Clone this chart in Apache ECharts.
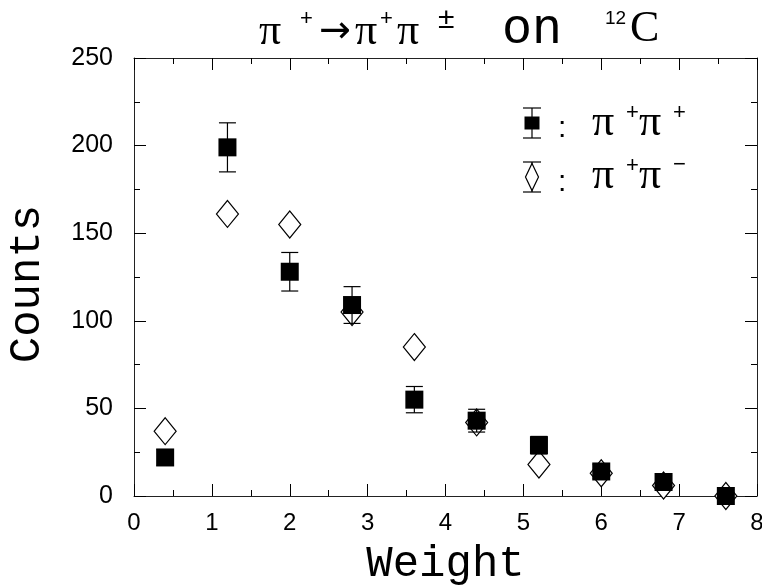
<!DOCTYPE html>
<html>
<head>
<meta charset="utf-8">
<script src="https://cdn.jsdelivr.net/npm/echarts@6/dist/echarts.min.js"></script>
<style>
  html, body { margin: 0; padding: 0; background: #fff; }
  #chart { width: 762px; height: 588px; }
</style>
</head>
<body>
<div id="chart"></div>
<script>
// bin centres (weight)
var weights = [0.4, 1.2, 2.0, 2.8, 3.6, 4.4, 5.2, 6.0, 6.8, 7.6];
// pi+ pi+ counts and their errors
var plusPlus = [22, 199, 128, 109, 55, 43, 29, 14, 8, 0];
var plusPlusErr = [4.5, 14, 11, 10.5, 7.5, 6.5, 5, 4, 3.5, 1];
// pi+ pi- counts
var plusMinus = [37, 161, 155, 105, 85, 42, 18, 13, 6, 0];

var piFont = 'Liberation Serif';
var monoFont = 'Liberation Mono';
var sansFont = 'Liberation Sans';

// plain text piece, vertically centred on y
function txt(str, x, y, family, size) {
    return {
        type: 'text', x: x, y: y, silent: true,
        style: { text: str, fontFamily: family, fontSize: size, fill: '#000', align: 'left', verticalAlign: 'middle' }
    };
}

function axisCommon() {
    return {
        type: 'value',
        axisLine: { show: true, onZero: false, lineStyle: { color: '#222', width: 1 } },
        axisTick: { show: true, inside: true, length: 12, lineStyle: { color: '#000', width: 1 } },
        minorTick: { show: true, splitNumber: 2, length: 6, lineStyle: { color: '#000', width: 1 } },
        splitLine: { show: false },
        minorSplitLine: { show: false }
    };
}

var xBottom = Object.assign(axisCommon(), {
    position: 'bottom', min: 0, max: 8, interval: 1,
    axisLabel: { fontFamily: sansFont, fontSize: 24, color: '#000', margin: 15 },
    name: 'Weight', nameLocation: 'middle', nameGap: 46,
    nameTextStyle: { fontFamily: monoFont, fontSize: 44, color: '#000' }
});
var xTop = Object.assign(axisCommon(), {
    position: 'top', min: 0, max: 8, interval: 1,
    axisLabel: { show: false }
});
var yLeft = Object.assign(axisCommon(), {
    position: 'left', min: 0, max: 250, interval: 50,
    axisLabel: { fontFamily: sansFont, fontSize: 25, color: '#000', margin: 21 },
    name: 'Counts', nameLocation: 'middle', nameGap: 85, nameRotate: 90,
    nameTextStyle: { fontFamily: monoFont, fontSize: 44, color: '#000', padding: [0, 14, 0, 0] }
});
var yRight = Object.assign(axisCommon(), {
    position: 'right', min: 0, max: 250, interval: 50,
    axisLabel: { show: false }
});

var errData = weights.map(function (w, i) {
    return [w, plusPlus[i] - plusPlusErr[i], plusPlus[i] + plusPlusErr[i]];
});

function renderErr(params, api) {
    var lo = api.coord([api.value(0), api.value(1)]);
    var hi = api.coord([api.value(0), api.value(2)]);
    var hw = 8.5;
    var st = { stroke: '#000', lineWidth: 1.2 };
    return {
        type: 'group',
        children: [
            { type: 'line', shape: { x1: lo[0], y1: lo[1], x2: hi[0], y2: hi[1] }, style: st },
            { type: 'line', shape: { x1: lo[0] - hw, y1: lo[1], x2: lo[0] + hw, y2: lo[1] }, style: st },
            { type: 'line', shape: { x1: hi[0] - hw, y1: hi[1], x2: hi[0] + hw, y2: hi[1] }, style: st }
        ]
    };
}

var chart = echarts.init(document.getElementById('chart'));

var lineSt = { stroke: '#000', lineWidth: 1.2 };
var option = {
    animation: false,
    backgroundColor: '#fff',
    grid: { left: 134, right: 5, top: 58, bottom: 92, containLabel: false, outerBoundsMode: 'none' },
    xAxis: [xBottom, xTop],
    yAxis: [yLeft, yRight],
    graphic: [
        // title  π+ → π+ π±  on  12C
        txt('π', 259, 32, piFont, 44),
        txt('+', 300, 19, sansFont, 22),
        txt('→', 319, 32, 'DejaVu Sans', 38),
        txt('π', 355, 32, piFont, 44),
        txt('+', 380, 19, sansFont, 22),
        txt('π', 397, 32, piFont, 44),
        txt('±', 438, 20, sansFont, 30),
        txt('on', 502, 30, monoFont, 50),
        txt('12', 605, 19, sansFont, 19),
        txt('C', 630, 29, piFont, 44),
        // legend: pi+ pi+
        { type: 'line', shape: { x1: 532, y1: 108, x2: 532, y2: 138 }, style: lineSt },
        { type: 'line', shape: { x1: 523, y1: 108, x2: 541, y2: 108 }, style: lineSt },
        { type: 'line', shape: { x1: 523, y1: 138, x2: 541, y2: 138 }, style: lineSt },
        { type: 'rect', shape: { x: 524.5, y: 116.5, width: 15, height: 13 }, style: { fill: '#000' } },
        txt(':', 558, 129, sansFont, 30),
        txt('π', 592, 123, piFont, 44),
        txt('+', 626, 113, sansFont, 22),
        txt('π', 639, 123, piFont, 44),
        txt('+', 673, 113, sansFont, 22),
        // legend: pi+ pi-
        { type: 'line', shape: { x1: 532, y1: 162, x2: 532, y2: 192 }, style: lineSt },
        { type: 'line', shape: { x1: 523, y1: 162, x2: 541, y2: 162 }, style: lineSt },
        { type: 'line', shape: { x1: 523, y1: 192, x2: 541, y2: 192 }, style: lineSt },
        { type: 'polygon', shape: { points: [[532, 163.5], [538.5, 177], [532, 190.5], [525.5, 177]] },
          style: { fill: '#fff', stroke: '#000', lineWidth: 1.2 } },
        txt(':', 558, 183, sansFont, 30),
        txt('π', 592, 176, piFont, 44),
        txt('+', 626, 166, sansFont, 22),
        txt('π', 639, 176, piFont, 44),
        txt('−', 673, 165, sansFont, 22)
    ],
    series: [
        {
            name: 'π+π−', type: 'scatter', z: 2,
            symbol: 'diamond', symbolSize: [22, 27],
            itemStyle: { color: '#fff', borderColor: '#000', borderWidth: 1.2, opacity: 1 },
            data: weights.map(function (w, i) { return [w, plusMinus[i]]; })
        },
        {
            name: 'err', type: 'custom', z: 3,
            renderItem: renderErr,
            data: errData
        },
        {
            name: 'π+π+', type: 'scatter', z: 4,
            symbol: 'rect', symbolSize: 18,
            itemStyle: { color: '#000', opacity: 1 },
            data: weights.map(function (w, i) { return [w, plusPlus[i]]; })
        }
    ]
};
chart.setOption(option);
</script>
</body>
</html>
